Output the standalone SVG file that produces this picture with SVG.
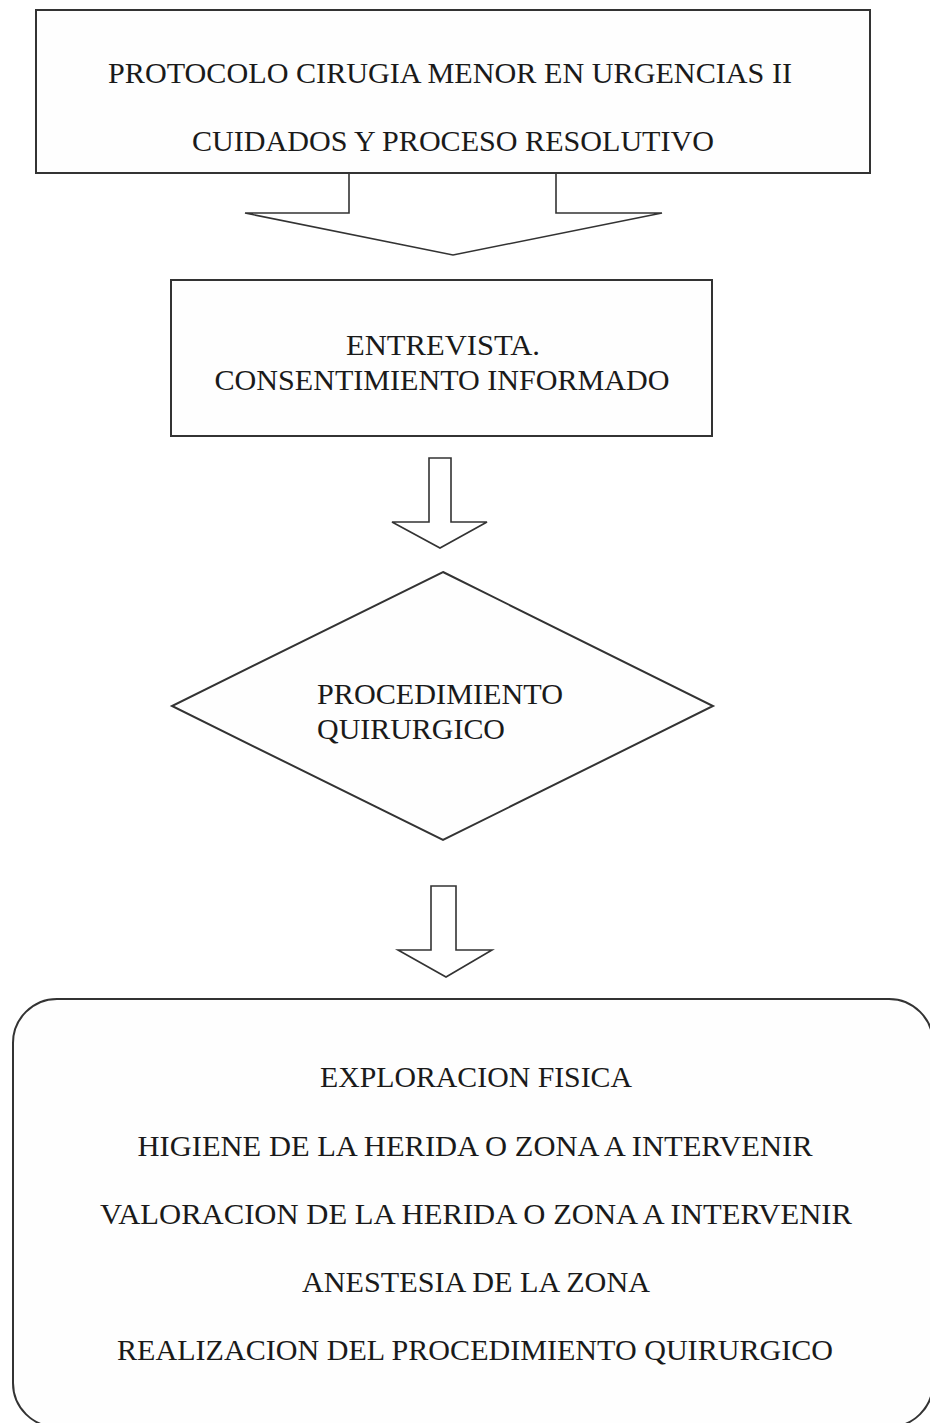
<svg xmlns="http://www.w3.org/2000/svg" width="930" height="1423" viewBox="0 0 930 1423">
<style>
.shape{fill:#fefefe;stroke:#333;stroke-width:2}
.arrow{fill:#fff;stroke:#333;stroke-width:1.6;stroke-linejoin:miter}
text{font-family:"Liberation Serif","Times New Roman",serif;font-size:29px;fill:#1a1a1a}
.c{text-anchor:middle}
</style>
<rect width="930" height="1423" fill="#fff"/>
<g id="n-title">
<rect class="shape" x="36" y="10" width="834" height="163"/>
<text class="c" x="450" y="83" textLength="684" lengthAdjust="spacingAndGlyphs">PROTOCOLO CIRUGIA MENOR EN URGENCIAS II</text>
<text class="c" x="453" y="151" textLength="522" lengthAdjust="spacingAndGlyphs">CUIDADOS Y PROCESO RESOLUTIVO</text>
</g>
<g id="n-entrevista">
<rect class="shape" x="171" y="280" width="541" height="156"/>
<text class="c" x="443" y="355" textLength="194" lengthAdjust="spacingAndGlyphs">ENTREVISTA.</text>
<text class="c" x="442" y="390" textLength="455" lengthAdjust="spacingAndGlyphs">CONSENTIMIENTO INFORMADO</text>
</g>
<g id="n-procedimiento">
<polygon class="shape" points="443,572 713,706 443,840 172,706"/>
<text x="317" y="704" textLength="246" lengthAdjust="spacingAndGlyphs">PROCEDIMIENTO</text>
<text x="317" y="739" textLength="188" lengthAdjust="spacingAndGlyphs">QUIRURGICO</text>
</g>
<g id="n-pasos">
<rect class="shape" x="13" y="999" width="920" height="428" rx="44" ry="44"/>
<text class="c" x="476" y="1087" textLength="312" lengthAdjust="spacingAndGlyphs">EXPLORACION FISICA</text>
<text class="c" x="475" y="1156" textLength="675" lengthAdjust="spacingAndGlyphs">HIGIENE DE LA HERIDA O ZONA A INTERVENIR</text>
<text class="c" x="476" y="1224" textLength="752" lengthAdjust="spacingAndGlyphs">VALORACION DE LA HERIDA O ZONA A INTERVENIR</text>
<text class="c" x="476" y="1292" textLength="348" lengthAdjust="spacingAndGlyphs">ANESTESIA DE LA ZONA</text>
<text class="c" x="475" y="1360" textLength="716" lengthAdjust="spacingAndGlyphs">REALIZACION DEL PROCEDIMIENTO QUIRURGICO</text>
</g>
<g id="connectors">
<path class="arrow" d="M349,174 L349,213 L245,213 L453,255 L662,213 L556,213 L556,174"/>
<path class="arrow" d="M429,458 L451,458 L451,522 L487,522 L440,548 L392,522 L429,522 Z"/>
<path class="arrow" d="M431,886 L456,886 L456,950 L492,950 L446,977 L398,950 L431,950 Z"/>
</g>
</svg>
